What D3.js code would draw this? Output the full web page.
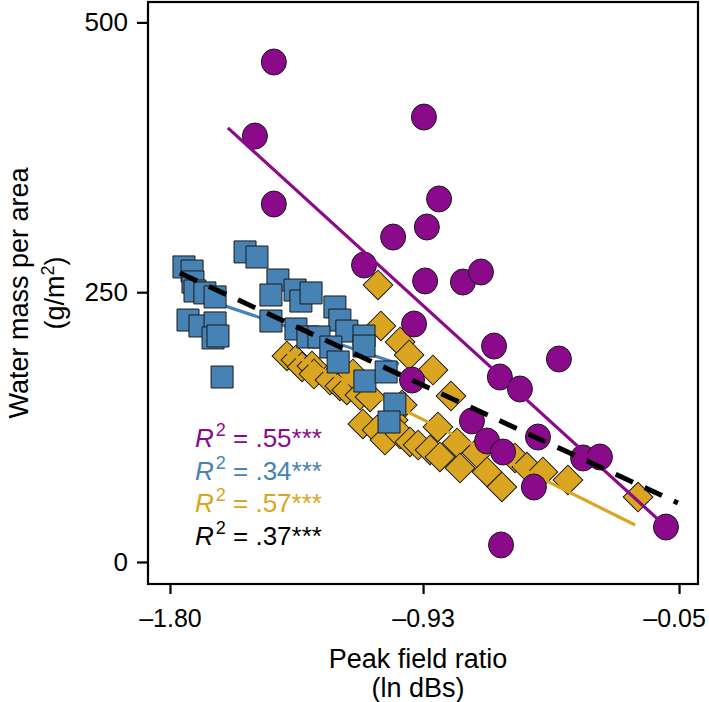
<!DOCTYPE html>
<html><head><meta charset="utf-8">
<script src="https://cdn.jsdelivr.net/npm/d3@7"></script>
<style>
body{margin:0;background:#fff;}
svg text{font-family:"Liberation Sans",Arial,Helvetica,sans-serif;}
</style>
</head><body><svg id="chart" width="709" height="702"></svg>
<script>
// ---- data ----
const purpleX = [-1.443,-1.508,-0.927,-1.443,-0.875,-1.033,-0.917,-1.133,-0.923,-0.793,-0.731,-0.961,-0.686,-0.463,-0.666,-0.597,-0.968,-0.762,-0.710,-0.655,-0.535,-0.380,-0.322,-0.549,-0.095,-0.662];
const purpleY = [463.3,394.7,412.3,331.7,336.4,301.1,310.4,275.2,260.4,259.4,268.7,220.5,200.1,188.1,171.4,160.3,168.6,130.7,112.1,101.9,115.8,96.4,97.3,69.5,32.4,15.8];

const blueX = [-1.752,-1.724,-1.721,-1.714,-1.680,-1.645,-1.542,-1.501,-1.429,-1.453,-1.370,-1.350,-1.315,-1.233,-1.216,-1.453,-1.367,-1.326,-1.288,-1.192,-1.133,-1.133,-1.247,-1.222,-1.130,-1.057,-1.027,-1.047,-1.738,-1.697,-1.645,-1.652,-1.635,-1.621];
const blueY = [273.4,269.6,259.5,251.1,249.3,245.6,287.3,282.6,261.3,247.4,252.0,241.8,249.3,236.3,224.2,223.3,215.9,208.5,208.5,214.0,209.4,200.1,199.2,185.3,167.7,176.1,146.4,129.7,224.2,218.7,221.5,207.6,209.4,171.4];

const orangeX = [-1.085,-1.075,-1.009,-0.978,-0.896,-0.834,-1.398,-1.367,-1.346,-1.312,-1.305,-1.250,-1.216,-1.192,-1.171,-1.147,-1.112,-1.002,-1.137,-1.088,-1.061,-1.033,-1.009,-0.975,-0.947,-0.906,-0.879,-0.872,-0.813,-0.803,-0.745,-0.710,-0.659,-0.614,-0.573,-0.518,-0.432,-0.191];
const orangeY = [256.7,218.7,203.9,191.8,177.9,153.8,190.9,187.2,180.7,181.6,174.2,168.6,163.1,159.4,174.2,154.7,152.9,145.5,127.9,122.3,113.0,131.6,118.6,111.2,108.4,103.8,125.1,97.3,110.3,87.1,101.0,83.4,69.5,96.4,88.0,83.4,76.0,60.2];

// fitted lines: start / end points
const fitNames = ["purple","blue","orange","all"];
const fitX0 = [-1.601,-1.755,-1.398,-1.766];
const fitY0 = [402.2,250.2,194.6,267.8];
const fitX1 = [-0.116,-1.013,-0.201,-0.054];
const fitY1 = [38.0,183.5,34.3,54.7];

const r2Values = [".55***",".34***",".57***",".37***"];

const xTicks = [-1.80,-0.93,-0.05];
const xTickLabels = ["\u20131.80","\u20130.93","\u20130.05"];
const yTicks = [0,250,500];
const yTickLabels = ["0","250","500"];

// ---- styling ----
const col = {purple:"#8b0a8b", blue:"#4682b4", orange:"#daa520", all:"#000000"};
const svg = d3.select("#chart");
const L=148, R=698, T=2, B=584;
const x = d3.scaleLinear().domain([-1.8756,0.0151]).range([L,R]);
const y = d3.scaleLinear().domain([-20.4,518.9]).range([B,T]);

function pts(xs,ys){return xs.map((v,i)=>({x:v,y:ys[i]}));}

// diamonds (orange)
svg.append("g").selectAll("path").data(pts(orangeX,orangeY)).join("path")
  .attr("d", d3.symbol(d3.symbolSquare, 441)())
  .attr("transform", d=>`translate(${x(d.x)},${y(d.y)}) rotate(45)`)
  .attr("fill", col.orange).attr("stroke","#1a1a1a").attr("stroke-width",1);

function fitLine(i){
  return svg.append("line")
    .attr("x1",x(fitX0[i])).attr("y1",y(fitY0[i]))
    .attr("x2",x(fitX1[i])).attr("y2",y(fitY1[i]))
    .attr("stroke",col[fitNames[i]]).attr("stroke-width",3.2);
}
fitLine(2);
fitLine(1);

// squares (blue)
svg.append("g").selectAll("path").data(pts(blueX,blueY)).join("path")
  .attr("d", d3.symbol(d3.symbolSquare, 484)())
  .attr("transform", d=>`translate(${x(d.x)},${y(d.y)})`)
  .attr("fill", col.blue).attr("stroke","#1a1a1a").attr("stroke-width",1);

// circles (purple)
svg.append("g").selectAll("ellipse").data(pts(purpleX,purpleY)).join("ellipse")
  .attr("cx", d=>x(d.x)).attr("cy", d=>y(d.y)).attr("rx",12.5).attr("ry",13)
  .attr("fill", col.purple).attr("stroke","#1a1a1a").attr("stroke-width",1);

fitLine(0);
fitLine(3).attr("stroke-width",5).attr("stroke-dasharray","19,13");

// frame
svg.append("rect").attr("x",L).attr("y",T).attr("width",R-L).attr("height",B-T)
  .attr("fill","none").attr("stroke","#000").attr("stroke-width",2.2);

// axes
const fs = 26;
const yAxis = svg.append("g").attr("transform",`translate(${L},0)`)
  .call(d3.axisLeft(y).tickValues(yTicks).tickFormat((d,i)=>yTickLabels[i]).tickSize(11).tickPadding(9));
const xAxis = svg.append("g").attr("transform",`translate(0,${B})`)
  .call(d3.axisBottom(x).tickValues(xTicks).tickFormat((d,i)=>xTickLabels[i]).tickSize(10).tickPadding(15));
[yAxis,xAxis].forEach(a=>{
  a.select(".domain").remove();
  a.selectAll(".tick line").attr("stroke","#000").attr("stroke-width",2.2);
  a.selectAll(".tick text").attr("fill","#000").style("font-size",fs+"px")
   .style("font-family",'"Liberation Sans",Arial,sans-serif');
});
xAxis.selectAll(".tick text").style("font-size","25px");
// keep the last x label inside the picture
xAxis.selectAll(".tick text").filter((d,i)=>i===xTicks.length-1).attr("dx",-5);

// axis titles
const tfs = 27;
svg.append("text").attr("x",(L+R)/2-5).attr("y",668).attr("text-anchor","middle")
  .style("font-size",tfs+"px").text("Peak field ratio");
svg.append("text").attr("x",(L+R)/2-5).attr("y",697).attr("text-anchor","middle")
  .style("font-size",tfs+"px").text("(ln dBs)");

svg.append("text").attr("transform","translate(28,293) rotate(-90)")
  .attr("text-anchor","middle").style("font-size",tfs+"px").text("Water mass per area");
const yt2 = svg.append("text").attr("transform","translate(64,293) rotate(-90)")
  .attr("text-anchor","middle").style("font-size",tfs+"px");
yt2.append("tspan").text("(g/m");
yt2.append("tspan").attr("dy",-10).style("font-size","18px").text("2");
yt2.append("tspan").attr("dy",10).text(")");

// R² legend
const legY = [447,480,512,545];
fitNames.forEach((n,i)=>{
  const t = svg.append("text").attr("x",195).attr("y",legY[i]).attr("fill",col[n])
    .style("font-size",fs+"px");
  t.append("tspan").style("font-style","italic").text("R");
  t.append("tspan").attr("dy",-11).attr("dx",2).style("font-size","18px").text("2");
  t.append("tspan").attr("dy",11).text(" = " + r2Values[i]);
});
</script>
</body></html>
